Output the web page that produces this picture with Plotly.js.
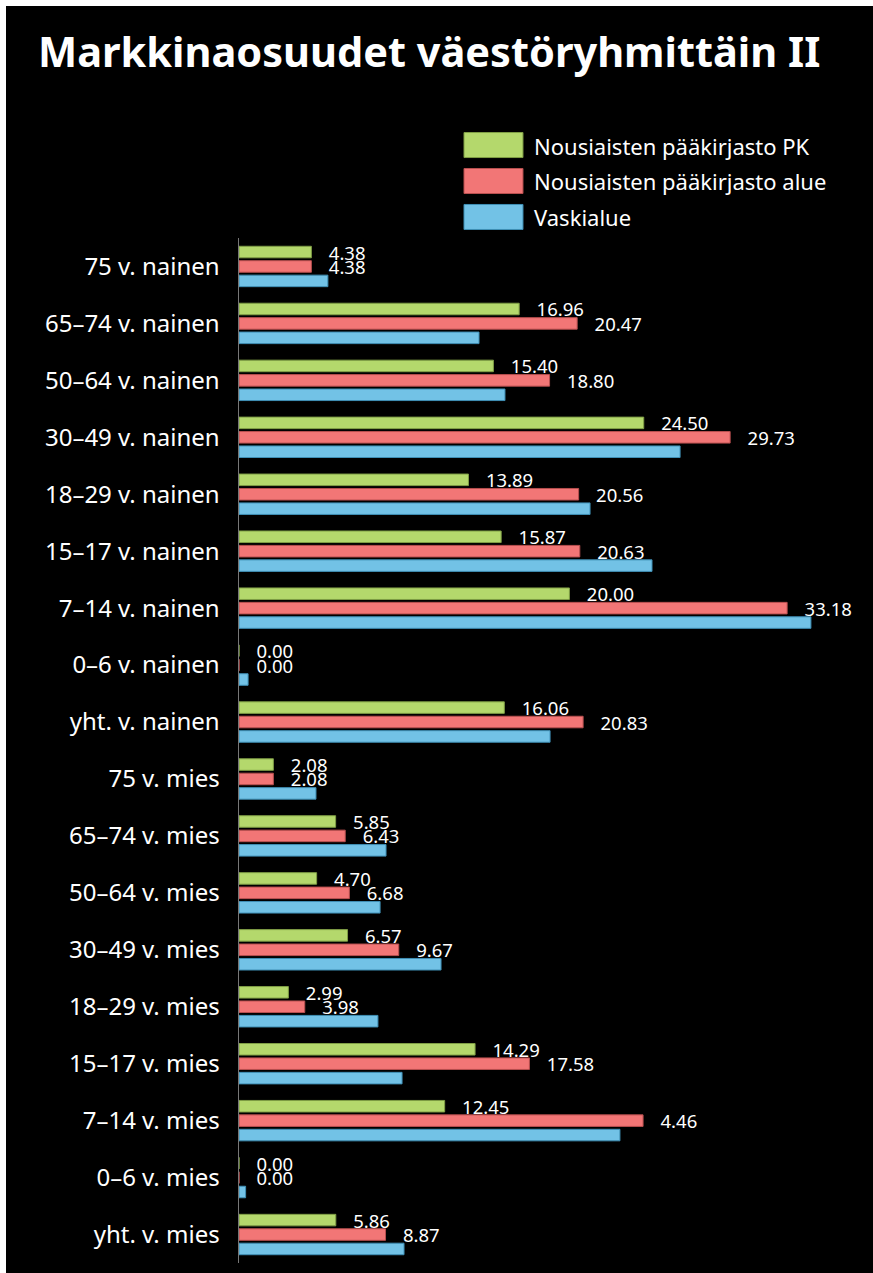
<!DOCTYPE html>
<html>
<head>
<meta charset="utf-8">
<script src="https://cdn.plot.ly/plotly-3.0.1.min.js"></script>
<style>
  html, body { margin: 0; padding: 0; background: #ffffff; }
  #chart { position: absolute; left: 6px; top: 6px; width: 867px; height: 1267px; background: #000; }
</style>
</head>
<body>
<div id="chart"></div>
<script>
const categories = ['75 v. nainen','65–74 v. nainen','50–64 v. nainen','30–49 v. nainen','18–29 v. nainen','15–17 v. nainen','7–14 v. nainen','0–6 v. nainen','yht. v. nainen','75 v. mies','65–74 v. mies','50–64 v. mies','30–49 v. mies','18–29 v. mies','15–17 v. mies','7–14 v. mies','0–6 v. mies','yht. v. mies'];
const seriesNames = ['Nousiaisten pääkirjasto PK','Nousiaisten pääkirjasto alue','Vaskialue'];
const pkValues = [4.38,16.96,15.40,24.50,13.89,15.87,20.00,0.00,16.06,2.08,5.85,4.70,6.57,2.99,14.29,12.45,0.00,5.86];
const alueValues = [4.38,20.47,18.80,29.73,20.56,20.63,33.18,0.00,20.83,2.08,6.43,6.68,9.67,3.98,17.58,24.46,0.00,8.87];
const vaskiValues = [5.38,14.53,16.10,26.70,21.25,25.00,34.62,0.55,18.83,4.66,8.90,8.54,12.23,8.41,9.87,23.06,0.40,9.99];
const pkLabels = ['4.38','16.96','15.40','24.50','13.89','15.87','20.00','0.00','16.06','2.08','5.85','4.70','6.57','2.99','14.29','12.45','0.00','5.86'];
const alueLabels = ['4.38','20.47','18.80','29.73','20.56','20.63','33.18','0.00','20.83','2.08','6.43','6.68','9.67','3.98','17.58','4.46','0.00','8.87'];

const colors = ['#b4d86c', '#f27676', '#72c2e6'];
const edge = ['#7f9e45', '#b84f4f', '#3f8fb5'];
const FONT = 'Noto Sans, DejaVu Sans, sans-serif';
const pad = '\u00a0\u00a0\u00a0';

function barTrace(i, vals, labels) {
  const t = {
    type: 'bar', orientation: 'h', name: seriesNames[i],
    y: categories, x: vals,
    marker: { color: colors[i], line: { color: edge[i], width: 1 } },
    hoverinfo: 'x+name'
  };
  if (labels) {
    t.text = labels.map(s => pad + s);
    t.textposition = 'outside';
    t.textfont = { family: FONT, size: 18.5, color: '#ffffff' };
    t.constraintext = 'none';
    t.cliponaxis = false;
  } else {
    t.textposition = 'none';
  }
  return t;
}

const data = [
  barTrace(0, pkValues, pkLabels),
  barTrace(1, alueValues, alueLabels),
  barTrace(2, vaskiValues, null)
];

// legend drawn as shapes + annotations (paper coords)
const legY = [[1.0785, 1.1029], [1.0434, 1.0678], [1.0083, 1.0327]];
const legTextY = [1.0902, 1.0556, 1.0205];
const shapes = [];
const annotations = [];
for (let i = 0; i < 3; i++) {
  shapes.push({ type: 'rect', xref: 'paper', yref: 'paper', x0: 0.375, x1: 0.4733, y0: legY[i][0], y1: legY[i][1],
    fillcolor: colors[i], line: { color: edge[i], width: 1 } });
  annotations.push({ xref: 'paper', yref: 'paper', x: 0.4883, y: legTextY[i], xanchor: 'left', yanchor: 'middle',
    text: seriesNames[i], showarrow: false, font: { family: FONT, size: 22, color: '#ffffff' } });
}

const layout = {
  width: 867, height: 1267,
  paper_bgcolor: '#000000', plot_bgcolor: '#000000',
  margin: { l: 233, r: 34, t: 232, b: 10, pad: 0 },
  title: { text: '<b>Markkinaosuudet väestöryhmittäin II</b>', xref: 'container', yref: 'container',
    x: 32/867, xanchor: 'left', y: 1 - 46/1267, yanchor: 'middle',
    font: { family: FONT, size: 41.5, color: '#ffffff' } },
  showlegend: false,
  barmode: 'group', bargap: 0.24, bargroupgap: 0.2,
  xaxis: { range: [0, 36.32], showgrid: false, zeroline: false, showticklabels: false, ticks: '', showline: false, fixedrange: true },
  yaxis: { type: 'category', autorange: 'reversed', showgrid: false, zeroline: false, ticks: '',
    showline: true, linecolor: '#777777', linewidth: 1.5, ticklabelstandoff: 13,
    tickfont: { family: FONT, size: 24, color: '#ffffff' } },
  shapes: shapes,
  annotations: annotations
};

Plotly.newPlot('chart', data, layout, { displayModeBar: false, staticPlot: true });
</script>
</body>
</html>
